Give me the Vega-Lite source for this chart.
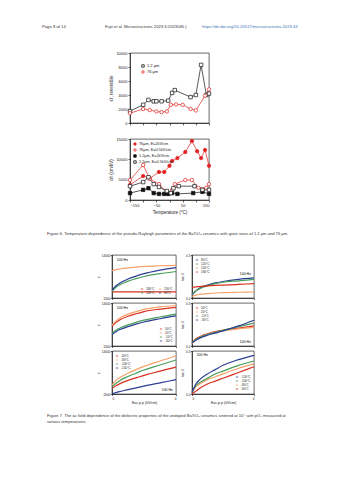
{
"$schema": "https://vega.github.io/schema/vega-lite/v6.json",
"background": "white",
"padding": {"left": 42, "top": 24, "right": 0, "bottom": 0},
"config": {
 "font": "Liberation Sans",
 "view": {"stroke": "black", "strokeWidth": 0.6},
 "axis": {"labelFontSize": 4, "titleFontSize": 4.5, "tickSize": 2, "labelPadding": 1, "titlePadding": 2, "domainColor": "black", "tickColor": "black", "labelColor": "#222", "titleColor": "#222", "titleFontWeight": "normal", "grid": false, "domainWidth": 0.6, "tickWidth": 0.6},
 "legend": {"labelFontSize": 3.5, "symbolSize": 6, "rowPadding": 0, "padding": 1, "labelOffset": 2, "titleFontSize": 4, "symbolStrokeWidth": 0.8, "labelColor": "#222"},
 "title": {"fontWeight": "normal", "fontSize": 4.3, "color": "#333", "offset": 0, "anchor": "start"}
},
"datasets": {
 "f6a": [
  {"s":"1.2 μm","T":-150,"v":1700},{"s":"1.2 μm","T":-100,"v":2600},{"s":"1.2 μm","T":-80,"v":3300},{"s":"1.2 μm","T":-60,"v":3100},{"s":"1.2 μm","T":-50,"v":3100},{"s":"1.2 μm","T":-30,"v":3100},{"s":"1.2 μm","T":-5,"v":3200},{"s":"1.2 μm","T":10,"v":4300},{"s":"1.2 μm","T":20,"v":4700},{"s":"1.2 μm","T":80,"v":3700},{"s":"1.2 μm","T":100,"v":4000},{"s":"1.2 μm","T":120,"v":8300},{"s":"1.2 μm","T":140,"v":4000},{"s":"1.2 μm","T":150,"v":4200},
  {"s":"76 μm","T":-150,"v":1400},{"s":"76 μm","T":-100,"v":2000},{"s":"76 μm","T":-75,"v":1850},{"s":"76 μm","T":-50,"v":1650},{"s":"76 μm","T":-30,"v":1550},{"s":"76 μm","T":-10,"v":1650},{"s":"76 μm","T":5,"v":2600},{"s":"76 μm","T":25,"v":2650},{"s":"76 μm","T":50,"v":2600},{"s":"76 μm","T":80,"v":2000},{"s":"76 μm","T":100,"v":1800},{"s":"76 μm","T":135,"v":3900},{"s":"76 μm","T":150,"v":4800}
 ],
 "f6b": [
  {"s":"76μm, E=2kV/cm","T":-150,"v":3700},{"s":"76μm, E=2kV/cm","T":-100,"v":5900},{"s":"76μm, E=2kV/cm","T":-75,"v":5300},{"s":"76μm, E=2kV/cm","T":-40,"v":6900},{"s":"76μm, E=2kV/cm","T":-20,"v":6900},{"s":"76μm, E=2kV/cm","T":0,"v":8400},{"s":"76μm, E=2kV/cm","T":10,"v":9600},{"s":"76μm, E=2kV/cm","T":30,"v":10300},{"s":"76μm, E=2kV/cm","T":60,"v":11800},{"s":"76μm, E=2kV/cm","T":85,"v":14500},{"s":"76μm, E=2kV/cm","T":105,"v":12000},{"s":"76μm, E=2kV/cm","T":120,"v":10300},{"s":"76μm, E=2kV/cm","T":135,"v":12300},{"s":"76μm, E=2kV/cm","T":150,"v":8400},
  {"s":"76μm, E=0.5kV/cm","T":-150,"v":4900},{"s":"76μm, E=0.5kV/cm","T":-100,"v":8600},{"s":"76μm, E=0.5kV/cm","T":-75,"v":5200},{"s":"76μm, E=0.5kV/cm","T":-40,"v":3900},{"s":"76μm, E=0.5kV/cm","T":-5,"v":1500},{"s":"76μm, E=0.5kV/cm","T":10,"v":2500},{"s":"76μm, E=0.5kV/cm","T":20,"v":3900},{"s":"76μm, E=0.5kV/cm","T":60,"v":4900},{"s":"76μm, E=0.5kV/cm","T":85,"v":4900},{"s":"76μm, E=0.5kV/cm","T":110,"v":3000},{"s":"76μm, E=0.5kV/cm","T":140,"v":3000},{"s":"76μm, E=0.5kV/cm","T":150,"v":3900},
  {"s":"1.2μm, E=2kV/cm","T":-150,"v":1700},{"s":"1.2μm, E=2kV/cm","T":-100,"v":2500},{"s":"1.2μm, E=2kV/cm","T":-80,"v":2900},{"s":"1.2μm, E=2kV/cm","T":-60,"v":1700},{"s":"1.2μm, E=2kV/cm","T":-40,"v":1500},{"s":"1.2μm, E=2kV/cm","T":-20,"v":1500},{"s":"1.2μm, E=2kV/cm","T":-5,"v":1500},{"s":"1.2μm, E=2kV/cm","T":10,"v":1700},{"s":"1.2μm, E=2kV/cm","T":30,"v":1500},{"s":"1.2μm, E=2kV/cm","T":90,"v":1700},{"s":"1.2μm, E=2kV/cm","T":125,"v":2000},{"s":"1.2μm, E=2kV/cm","T":150,"v":1500},
  {"s":"1.2μm, E=0.5kV/cm","T":-150,"v":3400},{"s":"1.2μm, E=0.5kV/cm","T":-100,"v":4400},{"s":"1.2μm, E=0.5kV/cm","T":-80,"v":5600},{"s":"1.2μm, E=0.5kV/cm","T":-60,"v":3900},{"s":"1.2μm, E=0.5kV/cm","T":-40,"v":3200},{"s":"1.2μm, E=0.5kV/cm","T":-10,"v":2200},{"s":"1.2μm, E=0.5kV/cm","T":5,"v":1700},{"s":"1.2μm, E=0.5kV/cm","T":15,"v":2900},{"s":"1.2μm, E=0.5kV/cm","T":35,"v":3400},{"s":"1.2μm, E=0.5kV/cm","T":95,"v":3400},{"s":"1.2μm, E=0.5kV/cm","T":125,"v":2500},{"s":"1.2μm, E=0.5kV/cm","T":150,"v":2500}
 ],
 "f7": [
  {"r":1,"q":"e","t":"180°C","E":0,"v":3700},{"r":1,"q":"e","t":"180°C","E":0.25,"v":3700},{"r":1,"q":"e","t":"180°C","E":0.5,"v":3700},{"r":1,"q":"e","t":"180°C","E":1,"v":3700},{"r":1,"q":"e","t":"180°C","E":1.5,"v":3700},{"r":1,"q":"e","t":"180°C","E":2,"v":3700},{"r":1,"q":"e","t":"180°C","E":3,"v":3700},{"r":1,"q":"e","t":"180°C","E":4,"v":3700},
  {"r":1,"q":"e","t":"150°C","E":0,"v":9600},{"r":1,"q":"e","t":"150°C","E":0.25,"v":9900},{"r":1,"q":"e","t":"150°C","E":0.5,"v":10100},{"r":1,"q":"e","t":"150°C","E":1,"v":10400},{"r":1,"q":"e","t":"150°C","E":1.5,"v":10600},{"r":1,"q":"e","t":"150°C","E":2,"v":10800},{"r":1,"q":"e","t":"150°C","E":3,"v":11000},{"r":1,"q":"e","t":"150°C","E":4,"v":11100},
  {"r":1,"q":"e","t":"120°C","E":0,"v":3800},{"r":1,"q":"e","t":"120°C","E":0.25,"v":5000},{"r":1,"q":"e","t":"120°C","E":0.5,"v":5700},{"r":1,"q":"e","t":"120°C","E":1,"v":6700},{"r":1,"q":"e","t":"120°C","E":1.5,"v":7400},{"r":1,"q":"e","t":"120°C","E":2,"v":8000},{"r":1,"q":"e","t":"120°C","E":3,"v":8800},{"r":1,"q":"e","t":"120°C","E":4,"v":9400},
  {"r":1,"q":"e","t":"90°C","E":0,"v":4200},{"r":1,"q":"e","t":"90°C","E":0.25,"v":5400},{"r":1,"q":"e","t":"90°C","E":0.5,"v":6200},{"r":1,"q":"e","t":"90°C","E":1,"v":7300},{"r":1,"q":"e","t":"90°C","E":1.5,"v":8100},{"r":1,"q":"e","t":"90°C","E":2,"v":8800},{"r":1,"q":"e","t":"90°C","E":3,"v":9800},{"r":1,"q":"e","t":"90°C","E":4,"v":10500},
  {"r":1,"q":"t","t":"90°C","E":0,"v":0.02},{"r":1,"q":"t","t":"90°C","E":0.25,"v":0.05},{"r":1,"q":"t","t":"90°C","E":0.5,"v":0.07},{"r":1,"q":"t","t":"90°C","E":1,"v":0.09},{"r":1,"q":"t","t":"90°C","E":1.5,"v":0.105},{"r":1,"q":"t","t":"90°C","E":2,"v":0.115},{"r":1,"q":"t","t":"90°C","E":3,"v":0.13},{"r":1,"q":"t","t":"90°C","E":4,"v":0.14},
  {"r":1,"q":"t","t":"120°C","E":0,"v":0.025},{"r":1,"q":"t","t":"120°C","E":0.25,"v":0.05},{"r":1,"q":"t","t":"120°C","E":0.5,"v":0.065},{"r":1,"q":"t","t":"120°C","E":1,"v":0.085},{"r":1,"q":"t","t":"120°C","E":1.5,"v":0.1},{"r":1,"q":"t","t":"120°C","E":2,"v":0.11},{"r":1,"q":"t","t":"120°C","E":3,"v":0.12},{"r":1,"q":"t","t":"120°C","E":4,"v":0.13},
  {"r":1,"q":"t","t":"150°C","E":0,"v":0.01},{"r":1,"q":"t","t":"150°C","E":0.25,"v":0.02},{"r":1,"q":"t","t":"150°C","E":0.5,"v":0.025},{"r":1,"q":"t","t":"150°C","E":1,"v":0.03},{"r":1,"q":"t","t":"150°C","E":1.5,"v":0.035},{"r":1,"q":"t","t":"150°C","E":2,"v":0.037},{"r":1,"q":"t","t":"150°C","E":3,"v":0.04},{"r":1,"q":"t","t":"150°C","E":4,"v":0.042},
  {"r":1,"q":"t","t":"180°C","E":0,"v":0.075},{"r":1,"q":"t","t":"180°C","E":0.25,"v":0.078},{"r":1,"q":"t","t":"180°C","E":0.5,"v":0.08},{"r":1,"q":"t","t":"180°C","E":1,"v":0.085},{"r":1,"q":"t","t":"180°C","E":1.5,"v":0.088},{"r":1,"q":"t","t":"180°C","E":2,"v":0.09},{"r":1,"q":"t","t":"180°C","E":3,"v":0.095},{"r":1,"q":"t","t":"180°C","E":4,"v":0.1},
  {"r":2,"q":"e","t":"50°C","E":0,"v":7500},{"r":2,"q":"e","t":"50°C","E":0.25,"v":8600},{"r":2,"q":"e","t":"50°C","E":0.5,"v":9300},{"r":2,"q":"e","t":"50°C","E":1,"v":10300},{"r":2,"q":"e","t":"50°C","E":1.5,"v":11000},{"r":2,"q":"e","t":"50°C","E":2,"v":11600},{"r":2,"q":"e","t":"50°C","E":3,"v":12300},{"r":2,"q":"e","t":"50°C","E":4,"v":12800},
  {"r":2,"q":"e","t":"20°C","E":0,"v":7800},{"r":2,"q":"e","t":"20°C","E":0.25,"v":9000},{"r":2,"q":"e","t":"20°C","E":0.5,"v":9800},{"r":2,"q":"e","t":"20°C","E":1,"v":10900},{"r":2,"q":"e","t":"20°C","E":1.5,"v":11600},{"r":2,"q":"e","t":"20°C","E":2,"v":12200},{"r":2,"q":"e","t":"20°C","E":3,"v":12900},{"r":2,"q":"e","t":"20°C","E":4,"v":13300},
  {"r":2,"q":"e","t":"-10°C","E":0,"v":5500},{"r":2,"q":"e","t":"-10°C","E":0.25,"v":6400},{"r":2,"q":"e","t":"-10°C","E":0.5,"v":7000},{"r":2,"q":"e","t":"-10°C","E":1,"v":7900},{"r":2,"q":"e","t":"-10°C","E":1.5,"v":8600},{"r":2,"q":"e","t":"-10°C","E":2,"v":9200},{"r":2,"q":"e","t":"-10°C","E":3,"v":10100},{"r":2,"q":"e","t":"-10°C","E":4,"v":10900},
  {"r":2,"q":"e","t":"-30°C","E":0,"v":5200},{"r":2,"q":"e","t":"-30°C","E":0.25,"v":6000},{"r":2,"q":"e","t":"-30°C","E":0.5,"v":6600},{"r":2,"q":"e","t":"-30°C","E":1,"v":7400},{"r":2,"q":"e","t":"-30°C","E":1.5,"v":8100},{"r":2,"q":"e","t":"-30°C","E":2,"v":8700},{"r":2,"q":"e","t":"-30°C","E":3,"v":9600},{"r":2,"q":"e","t":"-30°C","E":4,"v":10400},
  {"r":2,"q":"t","t":"50°C","E":0,"v":0.02},{"r":2,"q":"t","t":"50°C","E":0.25,"v":0.05},{"r":2,"q":"t","t":"50°C","E":0.5,"v":0.065},{"r":2,"q":"t","t":"50°C","E":1,"v":0.085},{"r":2,"q":"t","t":"50°C","E":1.5,"v":0.1},{"r":2,"q":"t","t":"50°C","E":2,"v":0.11},{"r":2,"q":"t","t":"50°C","E":3,"v":0.125},{"r":2,"q":"t","t":"50°C","E":4,"v":0.14},
  {"r":2,"q":"t","t":"20°C","E":0,"v":0.015},{"r":2,"q":"t","t":"20°C","E":0.25,"v":0.045},{"r":2,"q":"t","t":"20°C","E":0.5,"v":0.06},{"r":2,"q":"t","t":"20°C","E":1,"v":0.08},{"r":2,"q":"t","t":"20°C","E":1.5,"v":0.095},{"r":2,"q":"t","t":"20°C","E":2,"v":0.105},{"r":2,"q":"t","t":"20°C","E":3,"v":0.12},{"r":2,"q":"t","t":"20°C","E":4,"v":0.13},
  {"r":2,"q":"t","t":"-10°C","E":0,"v":0.02},{"r":2,"q":"t","t":"-10°C","E":0.25,"v":0.045},{"r":2,"q":"t","t":"-10°C","E":0.5,"v":0.06},{"r":2,"q":"t","t":"-10°C","E":1,"v":0.08},{"r":2,"q":"t","t":"-10°C","E":1.5,"v":0.095},{"r":2,"q":"t","t":"-10°C","E":2,"v":0.11},{"r":2,"q":"t","t":"-10°C","E":3,"v":0.135},{"r":2,"q":"t","t":"-10°C","E":4,"v":0.16},
  {"r":2,"q":"t","t":"-30°C","E":0,"v":0.02},{"r":2,"q":"t","t":"-30°C","E":0.25,"v":0.04},{"r":2,"q":"t","t":"-30°C","E":0.5,"v":0.055},{"r":2,"q":"t","t":"-30°C","E":1,"v":0.075},{"r":2,"q":"t","t":"-30°C","E":1.5,"v":0.09},{"r":2,"q":"t","t":"-30°C","E":2,"v":0.105},{"r":2,"q":"t","t":"-30°C","E":3,"v":0.14},{"r":2,"q":"t","t":"-30°C","E":4,"v":0.18},
  {"r":3,"q":"e","t":"-60°C","E":0,"v":3500},{"r":3,"q":"e","t":"-60°C","E":0.25,"v":4300},{"r":3,"q":"e","t":"-60°C","E":0.5,"v":4900},{"r":3,"q":"e","t":"-60°C","E":1,"v":5800},{"r":3,"q":"e","t":"-60°C","E":1.5,"v":6500},{"r":3,"q":"e","t":"-60°C","E":2,"v":7200},{"r":3,"q":"e","t":"-60°C","E":3,"v":8400},{"r":3,"q":"e","t":"-60°C","E":4,"v":9500},
  {"r":3,"q":"e","t":"-80°C","E":0,"v":4500},{"r":3,"q":"e","t":"-80°C","E":0.25,"v":5800},{"r":3,"q":"e","t":"-80°C","E":0.5,"v":6600},{"r":3,"q":"e","t":"-80°C","E":1,"v":7800},{"r":3,"q":"e","t":"-80°C","E":1.5,"v":8800},{"r":3,"q":"e","t":"-80°C","E":2,"v":9700},{"r":3,"q":"e","t":"-80°C","E":3,"v":11200},{"r":3,"q":"e","t":"-80°C","E":4,"v":12600},
  {"r":3,"q":"e","t":"-100°C","E":0,"v":4000},{"r":3,"q":"e","t":"-100°C","E":0.25,"v":5000},{"r":3,"q":"e","t":"-100°C","E":0.5,"v":5800},{"r":3,"q":"e","t":"-100°C","E":1,"v":6900},{"r":3,"q":"e","t":"-100°C","E":1.5,"v":7800},{"r":3,"q":"e","t":"-100°C","E":2,"v":8700},{"r":3,"q":"e","t":"-100°C","E":3,"v":10100},{"r":3,"q":"e","t":"-100°C","E":4,"v":11500},
  {"r":3,"q":"e","t":"-150°C","E":0,"v":2000},{"r":3,"q":"e","t":"-150°C","E":0.25,"v":2400},{"r":3,"q":"e","t":"-150°C","E":0.5,"v":2700},{"r":3,"q":"e","t":"-150°C","E":1,"v":3200},{"r":3,"q":"e","t":"-150°C","E":1.5,"v":3700},{"r":3,"q":"e","t":"-150°C","E":2,"v":4200},{"r":3,"q":"e","t":"-150°C","E":3,"v":5100},{"r":3,"q":"e","t":"-150°C","E":4,"v":6000},
  {"r":3,"q":"t","t":"-60°C","E":0,"v":0.0},{"r":3,"q":"t","t":"-60°C","E":0.25,"v":0.02},{"r":3,"q":"t","t":"-60°C","E":0.5,"v":0.04},{"r":3,"q":"t","t":"-60°C","E":1,"v":0.07},{"r":3,"q":"t","t":"-60°C","E":1.5,"v":0.09},{"r":3,"q":"t","t":"-60°C","E":2,"v":0.11},{"r":3,"q":"t","t":"-60°C","E":3,"v":0.15},{"r":3,"q":"t","t":"-60°C","E":4,"v":0.19},
  {"r":3,"q":"t","t":"-80°C","E":0,"v":0.01},{"r":3,"q":"t","t":"-80°C","E":0.25,"v":0.05},{"r":3,"q":"t","t":"-80°C","E":0.5,"v":0.07},{"r":3,"q":"t","t":"-80°C","E":1,"v":0.1},{"r":3,"q":"t","t":"-80°C","E":1.5,"v":0.12},{"r":3,"q":"t","t":"-80°C","E":2,"v":0.14},{"r":3,"q":"t","t":"-80°C","E":3,"v":0.18},{"r":3,"q":"t","t":"-80°C","E":4,"v":0.21},
  {"r":3,"q":"t","t":"-100°C","E":0,"v":0.01},{"r":3,"q":"t","t":"-100°C","E":0.25,"v":0.06},{"r":3,"q":"t","t":"-100°C","E":0.5,"v":0.08},{"r":3,"q":"t","t":"-100°C","E":1,"v":0.11},{"r":3,"q":"t","t":"-100°C","E":1.5,"v":0.14},{"r":3,"q":"t","t":"-100°C","E":2,"v":0.16},{"r":3,"q":"t","t":"-100°C","E":3,"v":0.2},{"r":3,"q":"t","t":"-100°C","E":4,"v":0.23},
  {"r":3,"q":"t","t":"-150°C","E":0,"v":0.01},{"r":3,"q":"t","t":"-150°C","E":0.25,"v":0.07},{"r":3,"q":"t","t":"-150°C","E":0.5,"v":0.1},{"r":3,"q":"t","t":"-150°C","E":1,"v":0.14},{"r":3,"q":"t","t":"-150°C","E":1.5,"v":0.17},{"r":3,"q":"t","t":"-150°C","E":2,"v":0.2},{"r":3,"q":"t","t":"-150°C","E":3,"v":0.24},{"r":3,"q":"t","t":"-150°C","E":4,"v":0.27}
 ]
},
"spacing": 0,
"vconcat": [
 {"spacing": 0, "hconcat": [
  {"width": 63, "height": 17, "data": {"values": []}, "mark": "point", "view": {"stroke": null}, "title": {"text": "Page 8 of 14", "fontSize": 4.2}},
  {"width": 97, "height": 17, "data": {"values": []}, "mark": "point", "view": {"stroke": null}, "title": {"text": "Fujii et al. Microstructures 2023;3:2023045 |", "fontSize": 4.2}},
  {"width": 110, "height": 17, "data": {"values": []}, "mark": "point", "view": {"stroke": null}, "title": {"text": "https://dx.doi.org/10.20517/microstructures.2023.43", "fontSize": 4.2, "color": "#3b6fb6"}}
 ]},
 {"spacing": 10, "vconcat": [
  {"spacing": 0, "hconcat": [
   {"width": 66, "height": 1, "data": {"values": []}, "mark": "point", "view": {"stroke": null}},
   {"width": 79, "height": 70, "data": {"name": "f6a"},
    "encoding": {
     "x": {"field": "T", "type": "quantitative", "scale": {"domain": [-150, 150]}, "axis": {"values": [-150,-100,-50,0,50,100,150], "labels": false, "title": null}},
     "y": {"field": "v", "type": "quantitative", "scale": {"domain": [0, 10000]}, "axis": {"values": [0,2000,4000,6000,8000,10000], "format": "d", "title": "ε′r, reversible"}},
     "color": {"field": "s", "type": "nominal", "scale": {"domain": ["1.2 μm", "76 μm"], "range": ["#111111", "#e0211f"]}, "legend": {"orient": "top-left", "title": null, "offset": 10, "labelFontSize": 4}}
    },
    "layer": [
     {"mark": {"type": "line", "strokeWidth": 0.7}},
     {"mark": {"type": "point", "filled": true, "size": 12, "strokeWidth": 0.7, "opacity": 1},
      "encoding": {
       "fill": {"value": "white"},
       "stroke": {"field": "s", "type": "nominal", "scale": {"domain": ["1.2 μm", "76 μm"], "range": ["#111111", "#e0211f"]}, "legend": {"orient": "top-left", "title": null, "offset": 10, "labelFontSize": 4}},
       "shape": {"field": "s", "type": "nominal", "scale": {"domain": ["1.2 μm", "76 μm"], "range": ["square", "circle"]}, "legend": {"orient": "top-left", "title": null, "offset": 10, "labelFontSize": 4}}
      }}
    ]}
  ], "resolve": {"scale": {"color": "independent", "shape": "independent", "fill": "independent", "stroke": "independent"}}},
  {"spacing": 0, "hconcat": [
   {"width": 66, "height": 1, "data": {"values": []}, "mark": "point", "view": {"stroke": null}},
   {"width": 79, "height": 61, "data": {"name": "f6b"},
    "encoding": {
     "x": {"field": "T", "type": "quantitative", "scale": {"domain": [-150, 150]}, "axis": {"values": [-150,-100,-50,0,50,100,150], "title": "Temperature (°C)"}},
     "y": {"field": "v", "type": "quantitative", "scale": {"domain": [0, 15000]}, "axis": {"values": [0,5000,10000,15000], "format": "d", "title": "α′r (cm/kV)"}}
    },
    "layer": [
     {"mark": {"type": "line", "strokeWidth": 0.7},
      "encoding": {"color": {"field": "s", "type": "nominal", "scale": {"domain": ["76μm, E=2kV/cm", "76μm, E=0.5kV/cm", "1.2μm, E=2kV/cm", "1.2μm, E=0.5kV/cm"], "range": ["#e0211f", "#e0211f", "#111111", "#111111"]}, "legend": {"orient": "top-left", "title": null, "offset": 2, "labelFontSize": 3.8}}}},
     {"mark": {"type": "point", "filled": true, "size": 12, "strokeWidth": 0.7, "opacity": 1},
      "encoding": {
       "stroke": {"field": "s", "type": "nominal", "scale": {"domain": ["76μm, E=2kV/cm", "76μm, E=0.5kV/cm", "1.2μm, E=2kV/cm", "1.2μm, E=0.5kV/cm"], "range": ["#e0211f", "#e0211f", "#111111", "#111111"]}, "legend": {"orient": "top-left", "title": null, "offset": 2, "labelFontSize": 3.8}},
       "shape": {"field": "s", "type": "nominal", "scale": {"domain": ["76μm, E=2kV/cm", "76μm, E=0.5kV/cm", "1.2μm, E=2kV/cm", "1.2μm, E=0.5kV/cm"], "range": ["circle", "circle", "square", "square"]}, "legend": {"orient": "top-left", "title": null, "offset": 2, "labelFontSize": 3.8}},
       "fill": {"field": "s", "type": "nominal", "scale": {"domain": ["76μm, E=2kV/cm", "76μm, E=0.5kV/cm", "1.2μm, E=2kV/cm", "1.2μm, E=0.5kV/cm"], "range": ["#e0211f", "white", "#111111", "white"]}, "legend": {"orient": "top-left", "title": null, "offset": 2, "labelFontSize": 3.8}}
      }}
    ]}
  ], "resolve": {"scale": {"color": "independent", "shape": "independent", "fill": "independent", "stroke": "independent"}}}
 ], "resolve": {"scale": {"color": "independent", "shape": "independent", "fill": "independent", "stroke": "independent"}}},
 {"width": 270, "height": 14, "data": {"values": []}, "mark": "point", "view": {"stroke": null}, "title": {"text": "Figure 6. Temperature dependence of the pseudo-Rayleigh parameters of the BaTiO₃ ceramics with grain sizes of 1.2 μm and 76 μm.", "orient": "bottom", "dx": 5, "fontSize": 4.1}},
 {"width": 270, "height": 15, "data": {"values": []}, "mark": "point", "view": {"stroke": null}},
 {"spacing": -1, "vconcat": [
  {"spacing": 1, "hconcat": [
   {"width": 52, "height": 1, "data": {"values": []}, "mark": "point", "view": {"stroke": null}},
   {"width": 64, "height": 43, "layer": [
    {"data": {"name": "f7"}, "transform": [{"filter": "datum.r == 1 && datum.q == 'e'"}], "mark": {"type": "line", "strokeWidth": 1.2, "interpolate": "monotone"},
     "encoding": {
      "x": {"field": "E", "type": "quantitative", "scale": {"domain": [0, 4]}, "axis": {"values": [0,1,2,3,4], "labels": false, "title": null, "tickSize": 1.5}},
      "y": {"field": "v", "type": "quantitative", "scale": {"domain": [2000, 14000]}, "axis": {"values": [2000,6000,10000,14000], "format": "d", "title": "ε′", "labelFontSize": 3.2, "titleFontSize": 3.5, "tickSize": 1.5, "labelPadding": 0.5, "titlePadding": 1}},
      "color": {"field": "t", "type": "nominal", "scale": {"domain": ["180°C","150°C","120°C","90°C"], "range": ["#d7301f","#f5a26b","#4a9e5c","#2c3e94"]}, "legend": {"orient": "bottom-right", "title": null, "columns": 2, "values": ["180°C","120°C","150°C","90°C"], "offset": 2, "labelFontSize": 3, "symbolSize": 5, "columnPadding": 2}}
     }},
    {"data": {"values": [{"f": "100 Hz"}]}, "mark": {"type": "text", "fontSize": 3.5, "align": "left"}, "encoding": {"x": {"datum": 0.3}, "y": {"datum": 12700}, "text": {"field": "f"}}}
   ]},
   {"width": 62, "height": 43, "layer": [
    {"data": {"name": "f7"}, "transform": [{"filter": "datum.r == 1 && datum.q == 't'"}], "mark": {"type": "line", "strokeWidth": 1.2, "interpolate": "monotone"},
     "encoding": {
      "x": {"field": "E", "type": "quantitative", "scale": {"domain": [0, 4]}, "axis": {"values": [0,1,2,3,4], "labels": false, "title": null, "tickSize": 1.5}},
      "y": {"field": "v", "type": "quantitative", "scale": {"domain": [0, 0.3]}, "axis": {"values": [0,0.1,0.2,0.3], "format": ".1f", "title": "tan δ", "labelFontSize": 3.2, "titleFontSize": 3.5, "tickSize": 1.5, "labelPadding": 0.5, "titlePadding": 1}},
      "color": {"field": "t", "type": "nominal", "scale": {"domain": ["180°C","150°C","120°C","90°C"], "range": ["#d7301f","#f5a26b","#4a9e5c","#2c3e94"]}, "legend": {"orient": "top-left", "title": null, "values": ["90°C","120°C","150°C","180°C"], "offset": 2, "labelFontSize": 3, "symbolSize": 5}}
     }},
    {"data": {"values": [{"f": "100 Hz"}]}, "mark": {"type": "text", "fontSize": 3.5, "align": "right"}, "encoding": {"x": {"datum": 3.8}, "y": {"datum": 0.165}, "text": {"field": "f"}}}
   ]}
  ], "resolve": {"scale": {"color": "independent", "y": "independent"}}},
  {"spacing": 1, "hconcat": [
   {"width": 52, "height": 1, "data": {"values": []}, "mark": "point", "view": {"stroke": null}},
   {"width": 64, "height": 43, "layer": [
    {"data": {"name": "f7"}, "transform": [{"filter": "datum.r == 2 && datum.q == 'e'"}], "mark": {"type": "line", "strokeWidth": 1.2, "interpolate": "monotone"},
     "encoding": {
      "x": {"field": "E", "type": "quantitative", "scale": {"domain": [0, 4]}, "axis": {"values": [0,1,2,3,4], "labels": false, "title": null, "tickSize": 1.5}},
      "y": {"field": "v", "type": "quantitative", "scale": {"domain": [2000, 14000]}, "axis": {"values": [2000,6000,10000,14000], "format": "d", "title": "ε′", "labelFontSize": 3.2, "titleFontSize": 3.5, "tickSize": 1.5, "labelPadding": 0.5, "titlePadding": 1}},
      "color": {"field": "t", "type": "nominal", "scale": {"domain": ["50°C","20°C","-10°C","-30°C"], "range": ["#d7301f","#f5a26b","#4a9e5c","#2c3e94"]}, "legend": {"orient": "bottom-right", "title": null, "offset": 2, "labelFontSize": 3, "symbolSize": 5}}
     }},
    {"data": {"values": [{"f": "100 Hz"}]}, "mark": {"type": "text", "fontSize": 3.5, "align": "left"}, "encoding": {"x": {"datum": 0.3}, "y": {"datum": 12700}, "text": {"field": "f"}}}
   ]},
   {"width": 62, "height": 43, "layer": [
    {"data": {"name": "f7"}, "transform": [{"filter": "datum.r == 2 && datum.q == 't'"}], "mark": {"type": "line", "strokeWidth": 1.2, "interpolate": "monotone"},
     "encoding": {
      "x": {"field": "E", "type": "quantitative", "scale": {"domain": [0, 4]}, "axis": {"values": [0,1,2,3,4], "labels": false, "title": null, "tickSize": 1.5}},
      "y": {"field": "v", "type": "quantitative", "scale": {"domain": [0, 0.3]}, "axis": {"values": [0,0.1,0.2,0.3], "format": ".1f", "title": "tan δ", "labelFontSize": 3.2, "titleFontSize": 3.5, "tickSize": 1.5, "labelPadding": 0.5, "titlePadding": 1}},
      "color": {"field": "t", "type": "nominal", "scale": {"domain": ["50°C","20°C","-10°C","-30°C"], "range": ["#d7301f","#f5a26b","#4a9e5c","#2c3e94"]}, "legend": {"orient": "top-left", "title": null, "offset": 2, "labelFontSize": 3, "symbolSize": 5}}
     }},
    {"data": {"values": [{"f": "100 Hz"}]}, "mark": {"type": "text", "fontSize": 3.5, "align": "right"}, "encoding": {"x": {"datum": 3.8}, "y": {"datum": 0.03}, "text": {"field": "f"}}}
   ]}
  ], "resolve": {"scale": {"color": "independent", "y": "independent"}}},
  {"spacing": 1, "hconcat": [
   {"width": 52, "height": 1, "data": {"values": []}, "mark": "point", "view": {"stroke": null}},
   {"width": 64, "height": 43, "layer": [
    {"data": {"name": "f7"}, "transform": [{"filter": "datum.r == 3 && datum.q == 'e'"}], "mark": {"type": "line", "strokeWidth": 1.2, "interpolate": "monotone"},
     "encoding": {
      "x": {"field": "E", "type": "quantitative", "scale": {"domain": [0, 4]}, "axis": {"values": [0,1,2,3,4], "labelFontSize": 3.2, "titleFontSize": 3.5, "tickSize": 1.5, "labelPadding": 0.5, "titlePadding": 1, "title": "Eac,p-p (kV/cm)"}},
      "y": {"field": "v", "type": "quantitative", "scale": {"domain": [2000, 14000]}, "axis": {"values": [2000,6000,10000,14000], "format": "d", "title": "ε′", "labelFontSize": 3.2, "titleFontSize": 3.5, "tickSize": 1.5, "labelPadding": 0.5, "titlePadding": 1}},
      "color": {"field": "t", "type": "nominal", "scale": {"domain": ["-60°C","-80°C","-100°C","-150°C"], "range": ["#d7301f","#f5a26b","#4a9e5c","#2c3e94"]}, "legend": {"orient": "top-left", "title": null, "offset": 2, "labelFontSize": 3, "symbolSize": 5}}
     }},
    {"data": {"values": [{"f": "100 Hz"}]}, "mark": {"type": "text", "fontSize": 3.5, "align": "right"}, "encoding": {"x": {"datum": 3.8}, "y": {"datum": 3000}, "text": {"field": "f"}}}
   ]},
   {"width": 62, "height": 43, "layer": [
    {"data": {"name": "f7"}, "transform": [{"filter": "datum.r == 3 && datum.q == 't'"}], "mark": {"type": "line", "strokeWidth": 1.2, "interpolate": "monotone"},
     "encoding": {
      "x": {"field": "E", "type": "quantitative", "scale": {"domain": [0, 4]}, "axis": {"values": [0,1,2,3,4], "labelFontSize": 3.2, "titleFontSize": 3.5, "tickSize": 1.5, "labelPadding": 0.5, "titlePadding": 1, "title": "Eac,p-p (kV/cm)"}},
      "y": {"field": "v", "type": "quantitative", "scale": {"domain": [0, 0.3]}, "axis": {"values": [0,0.1,0.2,0.3], "format": ".1f", "title": "tan δ", "labelFontSize": 3.2, "titleFontSize": 3.5, "tickSize": 1.5, "labelPadding": 0.5, "titlePadding": 1}},
      "color": {"field": "t", "type": "nominal", "scale": {"domain": ["-60°C","-80°C","-100°C","-150°C"], "range": ["#d7301f","#f5a26b","#4a9e5c","#2c3e94"]}, "legend": {"orient": "bottom-right", "title": null, "values": ["-150°C","-100°C","-80°C","-60°C"], "offset": 2, "labelFontSize": 3, "symbolSize": 5}}
     }},
    {"data": {"values": [{"f": "100 Hz"}]}, "mark": {"type": "text", "fontSize": 3.5, "align": "left"}, "encoding": {"x": {"datum": 0.3}, "y": {"datum": 0.27}, "text": {"field": "f"}}}
   ]}
  ], "resolve": {"scale": {"color": "independent", "y": "independent"}}}
 ], "resolve": {"scale": {"color": "independent"}}},
 {"width": 270, "height": 6, "data": {"values": []}, "mark": "point", "view": {"stroke": null}, "title": {"text": ["Figure 7. The ac field dependence of the dielectric properties of the undoped BaTiO₃ ceramics sintered at 10⁻⁷ atm pO₂ measured at", "various temperatures."], "orient": "bottom", "dx": 5, "fontSize": 4.1, "lineHeight": 6}}
],
"resolve": {"scale": {"color": "independent", "shape": "independent", "fill": "independent", "stroke": "independent", "x": "independent", "y": "independent"}}
}
